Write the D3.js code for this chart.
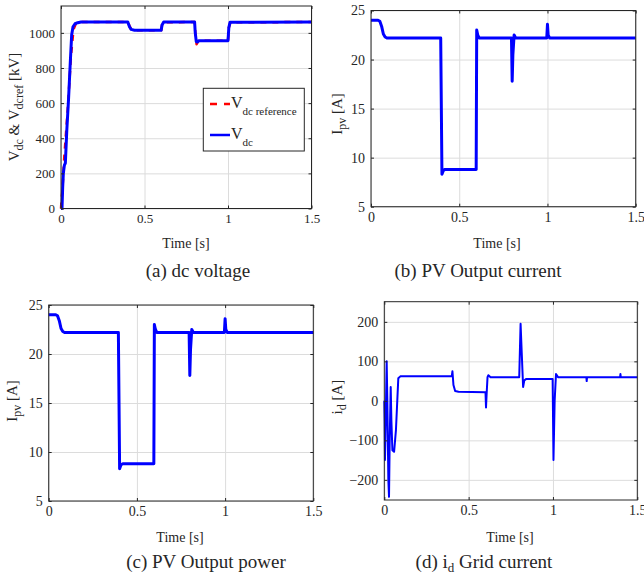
<!DOCTYPE html>
<html>
<head>
<meta charset="utf-8">
<script src="https://cdn.jsdelivr.net/npm/d3@7"></script>
<style>
  body { margin: 0; background: #fff; }
  svg text { font-family: "Liberation Serif", "Times New Roman", serif !important; fill: #262626; }
  .grid line { stroke: #dcdcdc; stroke-width: 1; }
  .grid path { display: none; }
  .tk path { display: none; }
  .tk line { stroke: #262626; }
</style>
</head>
<body>
<div id="chart"></div>
<script>
// shared x ticks (time, s)
var timeTicks = [0, 0.5, 1, 1.5];
var timeTickLabels = ["0", "0.5", "1", "1.5"];

// (a) dc voltage
var vdcTicks = [0, 200, 400, 600, 800, 1000];
var vdcRefTime = [0, 0.003, 0.008, 0.02, 0.04, 0.06, 0.075, 0.09, 0.12, 0.4, 0.41, 0.42, 0.44, 0.6, 0.605, 0.615, 0.8, 0.805, 0.812, 0.82, 0.83, 1.0, 1.005, 1.015, 1.5];
var vdcRefValue = [0, 50, 100, 300, 560, 870, 1020, 1055, 1062, 1062, 1040, 1020, 1015, 1015, 1045, 1060, 1062, 990, 935, 950, 955, 955, 1030, 1060, 1062];
var vdcTime = [0, 0.006, 0.01, 0.014, 0.02, 0.026, 0.035, 0.045, 0.055, 0.064, 0.072, 0.084, 0.1, 0.12, 0.4, 0.41, 0.42, 0.44, 0.6, 0.605, 0.615, 0.8, 0.804, 0.81, 0.816, 0.825, 1.0, 1.005, 1.012, 1.5];
var vdcValue = [0, 0, 120, 200, 245, 258, 450, 620, 820, 990, 1035, 1052, 1058, 1062, 1062, 1035, 1020, 1015, 1015, 1045, 1062, 1062, 1000, 950, 948, 955, 955, 1030, 1060, 1062];

// (b) PV output current and (c) PV output power (same trace in the figure)
var ipvTicks = [5, 10, 15, 20, 25];
var ipvTime = [0, 0.04, 0.05, 0.06, 0.07, 0.08, 0.09, 0.1, 0.395, 0.402, 0.41, 0.42, 0.596, 0.599, 0.605, 0.613, 0.796, 0.8, 0.804, 0.811, 0.82, 0.996, 1.0, 1.004, 1.012, 1.5];
var ipvValue = [24, 24, 23.9, 23.4, 22.6, 22.3, 22.2, 22.2, 22.2, 8.3, 8.7, 8.8, 8.8, 23.0, 22.5, 22.2, 22.2, 17.8, 20.5, 22.5, 22.2, 22.2, 23.6, 22.5, 22.2, 22.2];

// (d) id grid current
var idTicks = [-200, -100, 0, 100, 200];
var idTime = [0, 0.002, 0.004, 0.008, 0.014, 0.018, 0.024, 0.028, 0.032, 0.038, 0.042, 0.048, 0.058, 0.069, 0.083, 0.095, 0.4, 0.404, 0.41, 0.42, 0.44, 0.6, 0.603, 0.607, 0.612, 0.617, 0.63, 0.8, 0.808, 0.815, 0.823, 0.83, 0.84, 0.998, 1.003, 1.01, 1.018, 1.03, 1.198, 1.2, 1.202, 1.398, 1.4, 1.402, 1.5];
var idValue = [0, -50, -150, -60, 100, 0, -200, -243, -100, 35, -50, -125, -129, -74, 57, 62, 62, 75, 40, 25, 23, 22, -17, 20, 60, 65, 60, 60, 195, 120, 35, 52, 55, 55, -150, 0, 68, 60, 60, 50, 60, 60, 68, 60, 60];

var serif = '"Liberation Serif", "Times New Roman", serif';

var svg = d3.select('#chart').append('svg')
    .attr('width', 644)
    .attr('height', 577)
    .attr('font-family', serif);

function zipPts(ts, vs) {
    return ts.map((t, i) => ({t: t, v: vs[i]}));
}

// draws one MATLAB-style panel
function drawPanel(cfg) {
    var g = svg.append('g').attr('transform', `translate(${cfg.left},${cfg.top})`);
    var x = d3.scaleLinear().domain([0, 1.5]).range([0, cfg.w]);
    var y = d3.scaleLinear().domain(cfg.yDomain).range([cfg.h, 0]);

    g.append('rect').attr('width', cfg.w).attr('height', cfg.h).attr('fill', '#fff');

    // grid
    g.append('g').attr('class', 'grid')
        .attr('transform', `translate(0,${cfg.h})`)
        .call(d3.axisBottom(x).tickValues(timeTicks).tickSize(-cfg.h).tickFormat(''));
    g.append('g').attr('class', 'grid')
        .call(d3.axisLeft(y).tickValues(cfg.yTicks).tickSize(-cfg.w).tickFormat(''));

    // clip
    var clipId = 'clip' + cfg.id;
    g.append('clipPath').attr('id', clipId)
        .append('rect').attr('x', -2).attr('y', -2).attr('width', cfg.w + 4).attr('height', cfg.h + 4);

    var line = d3.line().x(d => x(d.t)).y(d => y(d.v));
    cfg.series.forEach(s => {
        g.append('path')
            .datum(zipPts(s.t, s.v))
            .attr('clip-path', `url(#${clipId})`)
            .attr('d', line)
            .attr('fill', 'none')
            .attr('stroke', s.color)
            .attr('stroke-width', s.width)
            .attr('stroke-linejoin', 'round')
            .attr('stroke-dasharray', s.dash || null);
    });

    // ticks on all four sides, pointing in
    var fs = cfg.tickFont + 'px';
    var xb = g.append('g').attr('class', 'tk').attr('transform', `translate(0,${cfg.h})`)
        .call(d3.axisBottom(x).tickValues(timeTicks).tickSizeInner(-3).tickSizeOuter(0)
            .tickPadding(5).tickFormat((d, i) => timeTickLabels[i]));
    xb.attr('font-family', serif).attr('font-size', fs);
    g.append('g').attr('class', 'tk')
        .call(d3.axisTop(x).tickValues(timeTicks).tickSizeInner(-3).tickSizeOuter(0).tickFormat(''));
    var yl = g.append('g').attr('class', 'tk')
        .call(d3.axisLeft(y).tickValues(cfg.yTicks).tickSizeInner(-3).tickSizeOuter(0)
            .tickPadding(6).tickFormat(d3.format('d')));
    yl.attr('font-family', serif).attr('font-size', fs);
    g.append('g').attr('class', 'tk').attr('transform', `translate(${cfg.w},0)`)
        .call(d3.axisRight(y).tickValues(cfg.yTicks).tickSizeInner(-3).tickSizeOuter(0).tickFormat(''));

    g.append('rect').attr('width', cfg.w).attr('height', cfg.h)
        .attr('fill', 'none').attr('stroke', '#262626').attr('stroke-width', 1);

    // x label
    g.append('text')
        .attr('x', cfg.xLabelX - cfg.left).attr('y', cfg.xLabelY - cfg.top)
        .attr('text-anchor', 'middle').style('font-size', '14px')
        .text('Time [s]');

    // y label with subscripts
    var yt = svg.append('text')
        .attr('transform', `translate(${cfg.yLabelX},${cfg.yLabelY}) rotate(-90)`)
        .attr('text-anchor', 'middle').style('font-size', cfg.yLabelFont + 'px');
    cfg.yLabel.forEach(p => {
        var ts = yt.append('tspan').text(p.s);
        if (p.sub) ts.attr('dy', 4).style('font-size', (cfg.yLabelFont - 3) + 'px');
        else if (p.after) ts.attr('dy', -4);
    });

    // caption
    var cap = svg.append('text')
        .attr('x', cfg.capX).attr('y', cfg.capY)
        .attr('text-anchor', 'middle').style('font-size', '19px');
    cfg.caption.forEach(p => {
        var ts = cap.append('tspan').text(p.s);
        if (p.sub) ts.attr('dy', 4).style('font-size', '13px');
        else if (p.after) ts.attr('dy', -4);
    });
    return {g: g, x: x, y: y};
}

drawPanel({
    id: 'a', left: 61, top: 6, w: 250.5, h: 202.5,
    yDomain: [0, 1153], yTicks: vdcTicks, tickFont: 13,
    series: [
        {t: vdcRefTime, v: vdcRefValue, color: '#ff0000', width: 2.5, dash: '6,6'},
        {t: vdcTime, v: vdcValue, color: '#0000ff', width: 3}
    ],
    xLabelX: 186, xLabelY: 248,
    yLabelX: 19, yLabelY: 107, yLabelFont: 15,
    yLabel: [{s: 'V'}, {s: 'dc', sub: true}, {s: ' & V', after: true}, {s: 'dcref', sub: true}, {s: ' [kV]', after: true}],
    capX: 198, capY: 277,
    caption: [{s: '(a) dc voltage'}]
});

drawPanel({
    id: 'b', left: 371, top: 10.5, w: 264.7, h: 196.2,
    yDomain: [5, 25], yTicks: ipvTicks, tickFont: 14,
    series: [{t: ipvTime, v: ipvValue, color: '#0000ff', width: 3}],
    xLabelX: 497, xLabelY: 248,
    yLabelX: 342, yLabelY: 114, yLabelFont: 15,
    yLabel: [{s: 'I'}, {s: 'pv', sub: true}, {s: ' [A]', after: true}],
    capX: 478, capY: 277,
    caption: [{s: '(b) PV Output current'}]
});

drawPanel({
    id: 'c', left: 48.7, top: 305, w: 264.6, h: 196,
    yDomain: [5, 25], yTicks: ipvTicks, tickFont: 14,
    series: [{t: ipvTime, v: ipvValue, color: '#0000ff', width: 3}],
    xLabelX: 180, xLabelY: 542,
    yLabelX: 17, yLabelY: 401, yLabelFont: 15,
    yLabel: [{s: 'I'}, {s: 'pv', sub: true}, {s: ' [A]', after: true}],
    capX: 206, capY: 568,
    caption: [{s: '(c) PV Output power'}]
});

drawPanel({
    id: 'd', left: 384.3, top: 301.7, w: 253, h: 198.3,
    yDomain: [-251, 251], yTicks: idTicks, tickFont: 14,
    series: [{t: idTime, v: idValue, color: '#0000ff', width: 2}],
    xLabelX: 510, xLabelY: 542,
    yLabelX: 342, yLabelY: 397, yLabelFont: 15,
    yLabel: [{s: 'i'}, {s: 'd', sub: true}, {s: ' [A]', after: true}],
    capX: 484, capY: 568,
    caption: [{s: '(d) i'}, {s: 'd', sub: true}, {s: ' Grid current', after: true}]
});

// legend in panel (a)
var leg = svg.append('g');
leg.append('rect').attr('x', 203.3).attr('y', 88.3).attr('width', 101).attr('height', 62.7)
    .attr('fill', '#fff').attr('stroke', '#262626').attr('stroke-width', 1);
var legItems = [
    {main: 'V', sub: 'dc reference', color: '#ff0000', dash: '7,7', y: 104},
    {main: 'V', sub: 'dc', color: '#0000ff', dash: null, y: 135}
];
legItems.forEach(it => {
    leg.append('line').attr('x1', 210).attr('x2', 230).attr('y1', it.y).attr('y2', it.y)
        .attr('stroke', it.color).attr('stroke-width', 2.5).attr('stroke-dasharray', it.dash);
    var t = leg.append('text').attr('x', 231).attr('y', it.y + 4).style('font-size', '16px');
    t.append('tspan').text(it.main);
    t.append('tspan').attr('dy', 7).style('font-size', '11px').text(it.sub);
});
</script>
</body>
</html>
